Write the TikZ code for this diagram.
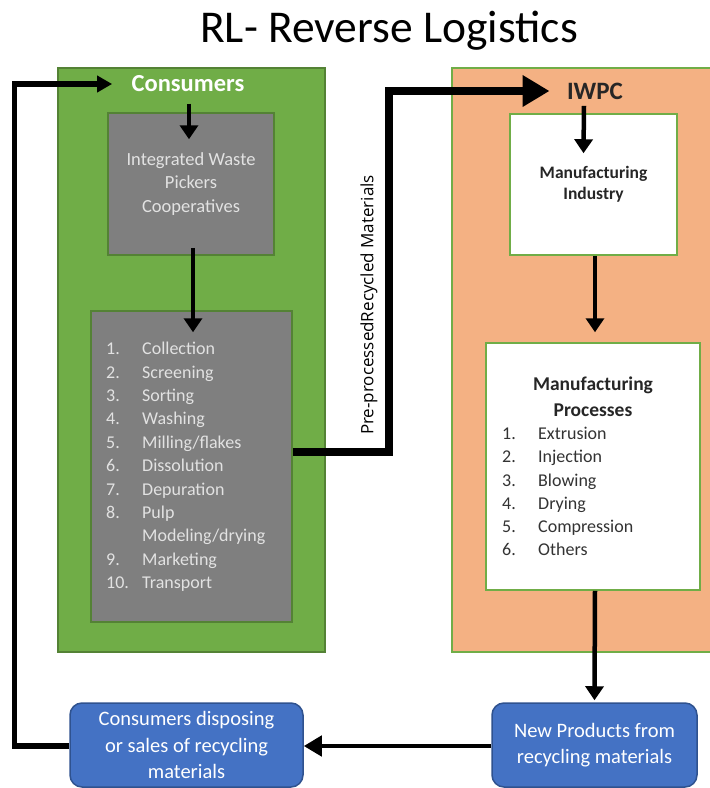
\documentclass[tikz,border=0pt]{standalone}
\usepackage{fontspec}
\setmainfont{Carlito}
\newfontfamily\labelfont{Open Sans}
\usetikzlibrary{arrows.meta,positioning}
\definecolor{consgreen}{HTML}{70AD47}
\definecolor{consedge}{HTML}{548235}
\definecolor{pickgrey}{HTML}{7F7F7F}
\definecolor{picktext}{HTML}{E2E2E2}
\definecolor{iwpcorange}{HTML}{F4B183}
\definecolor{prodblue}{HTML}{4472C4}
\definecolor{prodedge}{HTML}{2F528F}

\begin{document}
\begin{tikzpicture}[x=1pt, y=-1pt,
    panel/.style={draw=consedge, line width=1.5pt, inner sep=0pt},
    greybox/.style={draw=consedge, fill=pickgrey, line width=1.5pt, inner sep=0pt, text=picktext},
    whitebox/.style={draw=consgreen, fill=white, line width=1.5pt, inner sep=0pt, text=black!85},
    bluebox/.style={draw=prodedge, fill=prodblue, line width=1.5pt, rounded corners=12pt,
        inner sep=0pt, text=white, align=center, font=\fontsize{20.5}{26.5}\selectfont},
    flow/.style={line width=4.5pt, -{Triangle[length=14pt, width=18pt]}},
    bigflow/.style={line width=8pt, -{Triangle[length=27pt, width=30pt]}}]
    \useasboundingbox (0,0) rectangle (710,788);

    % Title
    \node[font=\fontsize{45.5}{52}\selectfont] (title) at (389,31) {RL- Reverse Logistics};

    % Panels
    \node[panel, fill=consgreen, minimum width=267pt, minimum height=584pt] (conspanel) at (191.5,360) {};
    \node[panel, draw=consgreen, fill=iwpcorange, minimum width=262pt, minimum height=584pt] (iwpcpanel) at (583,360) {};

    \node[font=\fontsize{24.5}{28}\selectfont\bfseries, text=white] (cons) at (188,84) {Consumers};
    \node[font=\fontsize{25}{28}\selectfont\bfseries, text=black!85] (iwpc) at (595,91) {IWPC};

    % Left side boxes
    \node[greybox, minimum width=166pt, minimum height=142pt, align=center,
        font=\fontsize{18.5}{23.5}\selectfont] (pickers) at (191,184)
        {Integrated Waste\\Pickers\\Cooperatives};
    \node[greybox, minimum width=201pt, minimum height=311pt] (steps) at (191.5,466.5) {};
    \node[anchor=west, inner sep=0pt, text=picktext, font=\fontsize{18}{23.4}\selectfont] (steplist) at (106,467) {%
        \begin{tabular}{@{}p{36pt}@{}l@{}}
            1. & Collection\\
            2. & Screening\\
            3. & Sorting\\
            4. & Washing\\
            5. & Milling/flakes\\
            6. & Dissolution\\
            7. & Depuration\\
            8. & Pulp\\
               & Modeling/drying\\
            9. & Marketing\\
            10. & Transport
        \end{tabular}};

    % Right side boxes
    \node[whitebox, minimum width=167pt, minimum height=141pt, align=center,
        font=\fontsize{17.5}{21}\selectfont\bfseries] (ind) at (593.5,184.5)
        {Manufacturing\\Industry};
    \node[whitebox, minimum width=214pt, minimum height=247pt] (proc) at (593,466.5) {};
    \node[align=center, text=black!85, font=\fontsize{19.5}{26}\selectfont\bfseries] (proctitle) at (593,397)
        {Manufacturing\\Processes};
    \node[anchor=west, inner sep=0pt, text=black!80, font=\fontsize{18}{23.2}\selectfont] (proclist) at (502,493) {%
        \begin{tabular}{@{}p{36pt}@{}l@{}}
            1. & Extrusion\\
            2. & Injection\\
            3. & Blowing\\
            4. & Drying\\
            5. & Compression\\
            6. & Others
        \end{tabular}};

    % Bottom boxes
    \node[bluebox, minimum width=233pt, minimum height=84pt] (disp) at (186.5,745)
        {Consumers disposing\\or sales of recycling\\materials};
    \node[bluebox, minimum width=205pt, minimum height=84pt] (newprod) at (594.5,745)
        {New Products from\\recycling materials};

    % Connectors
    \draw[flow] ([xshift=1pt, yshift=-8pt]cons.south) -- ([xshift=-2pt, yshift=-27pt]pickers.north);
    \draw[flow] ([xshift=2pt, yshift=8pt]pickers.south) -- ([xshift=1.5pt, yshift=-22pt]steps.north);
    \draw[bigflow, shorten >=14pt] ([yshift=14.5pt]steps.east) -- ++(96,0) |- (iwpc.west);
    \node[rotate=90, font=\labelfont\fontsize{17}{20}\selectfont] (prelabel) at (369,305) {Pre-processedRecycled Materials};
    \draw[flow] ([xshift=-11pt, yshift=-3pt]iwpc.south) -- ([xshift=-10pt, yshift=-40pt]ind.north);
    \draw[flow] ([xshift=1.5pt]ind.south) -- ([xshift=2pt, yshift=10pt]proc.north);
    \draw[flow] ([xshift=2pt]proc.south) -- ([yshift=2pt]newprod.north);
    \draw[flow, -{Triangle[length=18pt, width=20pt]}] ([yshift=-1pt]newprod.west) -- ([yshift=-1pt]disp.east);
    \draw[line width=5.5pt, -{Triangle[length=15pt, width=16pt]}, shorten >=16pt]
        ([yshift=-1pt]disp.west) -- ++(-55,0) |- (cons.west);
\end{tikzpicture}
\end{document}
